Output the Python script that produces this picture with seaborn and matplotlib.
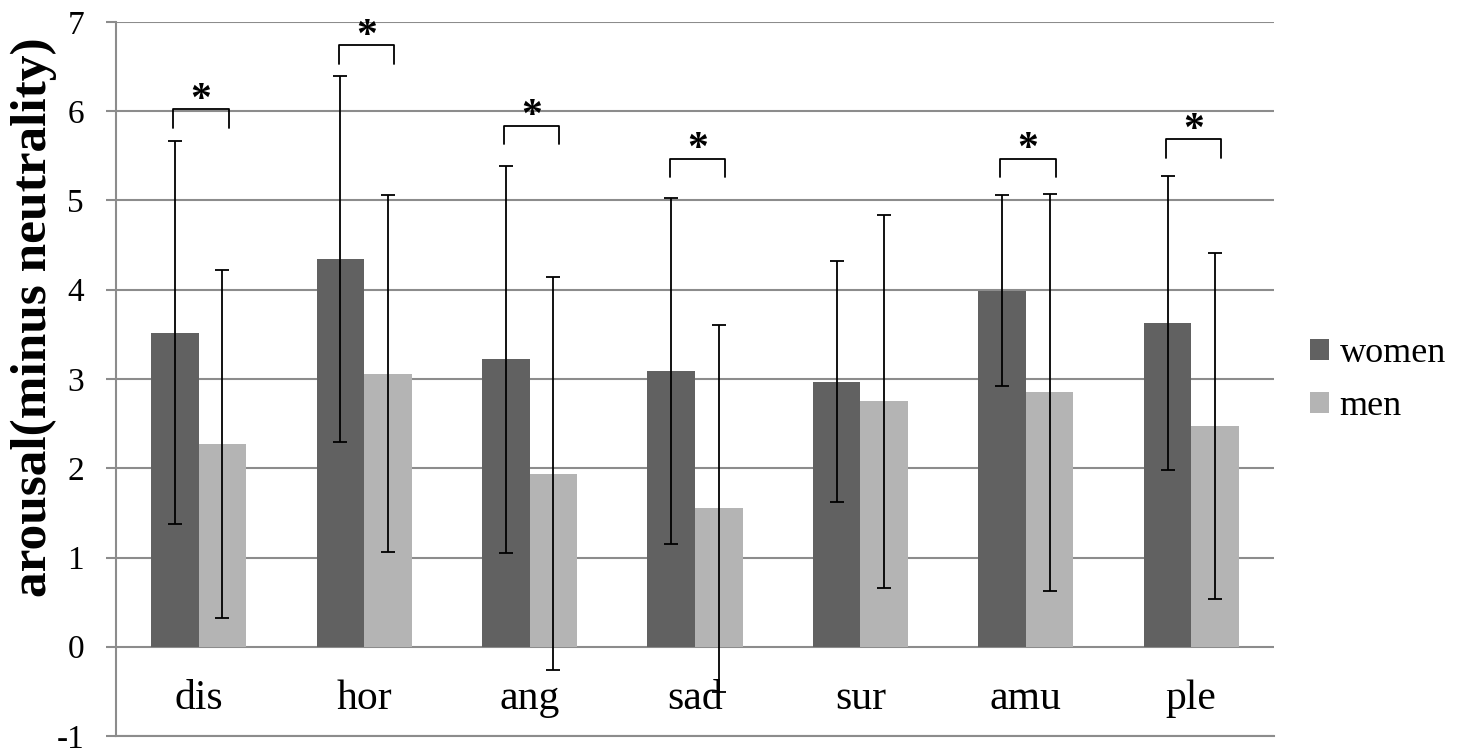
import matplotlib
matplotlib.use("Agg")
import matplotlib.pyplot as plt
from matplotlib.patches import Patch
import seaborn as sns
import pandas as pd

emotions = ["dis", "hor", "ang", "sad", "sur", "amu", "ple"]
women = [3.52, 4.34, 3.22, 3.09, 2.97, 3.99, 3.63]
men = [2.27, 3.06, 1.94, 1.55, 2.75, 2.85, 2.47]
women_err = [2.15, 2.05, 2.17, 1.94, 1.35, 1.07, 1.65]
men_err = [1.95, 2.00, 2.20, 2.06, 2.09, 2.22, 1.94]
# height of the significance bracket per emotion (None = no bracket)
sig_height = [6.02, 6.74, 5.84, 5.47, None, 5.47, 5.69]

groups = ["women", "men"]
colors = {"women": "#616161", "men": "#b4b4b4"}
grid_col = "#8c8c8c"

df = pd.DataFrame({
    "emotion": emotions * 2,
    "group": ["women"] * len(emotions) + ["men"] * len(emotions),
    "arousal": women + men,
})

sns.set_style("white")
plt.rcParams["font.family"] = ["Liberation Serif", "DejaVu Serif"]
plt.rcParams["axes.unicode_minus"] = False
plt.rcParams["text.color"] = "black"
plt.rcParams["axes.labelcolor"] = "black"

fig = plt.figure(figsize=(14.65, 7.51), dpi=100)
ax = fig.add_axes([116 / 1465, 15 / 751, 1158 / 1465, 714 / 751])

sns.barplot(data=df, x="emotion", y="arousal", hue="group", hue_order=groups,
            palette=colors, width=0.575, errorbar=None, linewidth=0,
            legend=False, ax=ax)

centers = []
for bars, err in zip(ax.containers, [women_err, men_err]):
    xs = [b.get_x() + b.get_width() / 2 for b in bars]
    ys = [b.get_height() for b in bars]
    centers.append(xs)
    ax.errorbar(xs, ys, yerr=err, fmt="none", ecolor="black", elinewidth=1.3,
                capsize=5, capthick=1.3, zorder=5)

# significance brackets
leg = 0.21
for i, h in enumerate(sig_height):
    if h is None:
        continue
    x0 = centers[0][i] - 0.01
    x1 = centers[1][i] + 0.037
    ax.plot([x0, x0, x1, x1], [h - leg, h, h, h - leg], color="black", lw=1.3,
            solid_joinstyle="round", zorder=6)
    ax.text((x0 + x1) / 2, h - 0.02, "*", ha="center", va="baseline",
            fontsize=30, fontweight="bold", zorder=6)

ax.set_xlim(-0.5, len(emotions) - 0.5)
ax.set_ylim(-1, 7)
ax.set_yticks(range(-1, 8))
ax.set_axisbelow(True)
ax.yaxis.grid(True, color=grid_col, lw=1.5)
ax.xaxis.grid(False)

for s in ["top", "right"]:
    ax.spines[s].set_visible(False)
for s in ["left", "bottom"]:
    ax.spines[s].set_color(grid_col)
    ax.spines[s].set_linewidth(1.5)

ax.tick_params(axis="y", direction="out", length=7, width=1.5, color=grid_col,
               labelcolor="black", labelsize=24, pad=16, left=True)
ax.tick_params(axis="x", length=0, labelsize=30, labelcolor="black", pad=-41)

ax.set_xlabel("")
ax.set_ylabel("arousal(minus neutrality)", fontsize=37, fontweight="bold")
ax.yaxis.set_label_coords(-0.051, 0.587)

handles = [Patch(facecolor=colors[g], edgecolor="none") for g in groups]
ax.legend(handles, groups, loc="center left", bbox_to_anchor=(1.031, 0.4986),
          frameon=False, fontsize=26, handlelength=0.52, handleheight=0.52,
          handletextpad=0.3, labelspacing=0.55, borderpad=0, borderaxespad=0)

fig.savefig("out.png", dpi=100)
